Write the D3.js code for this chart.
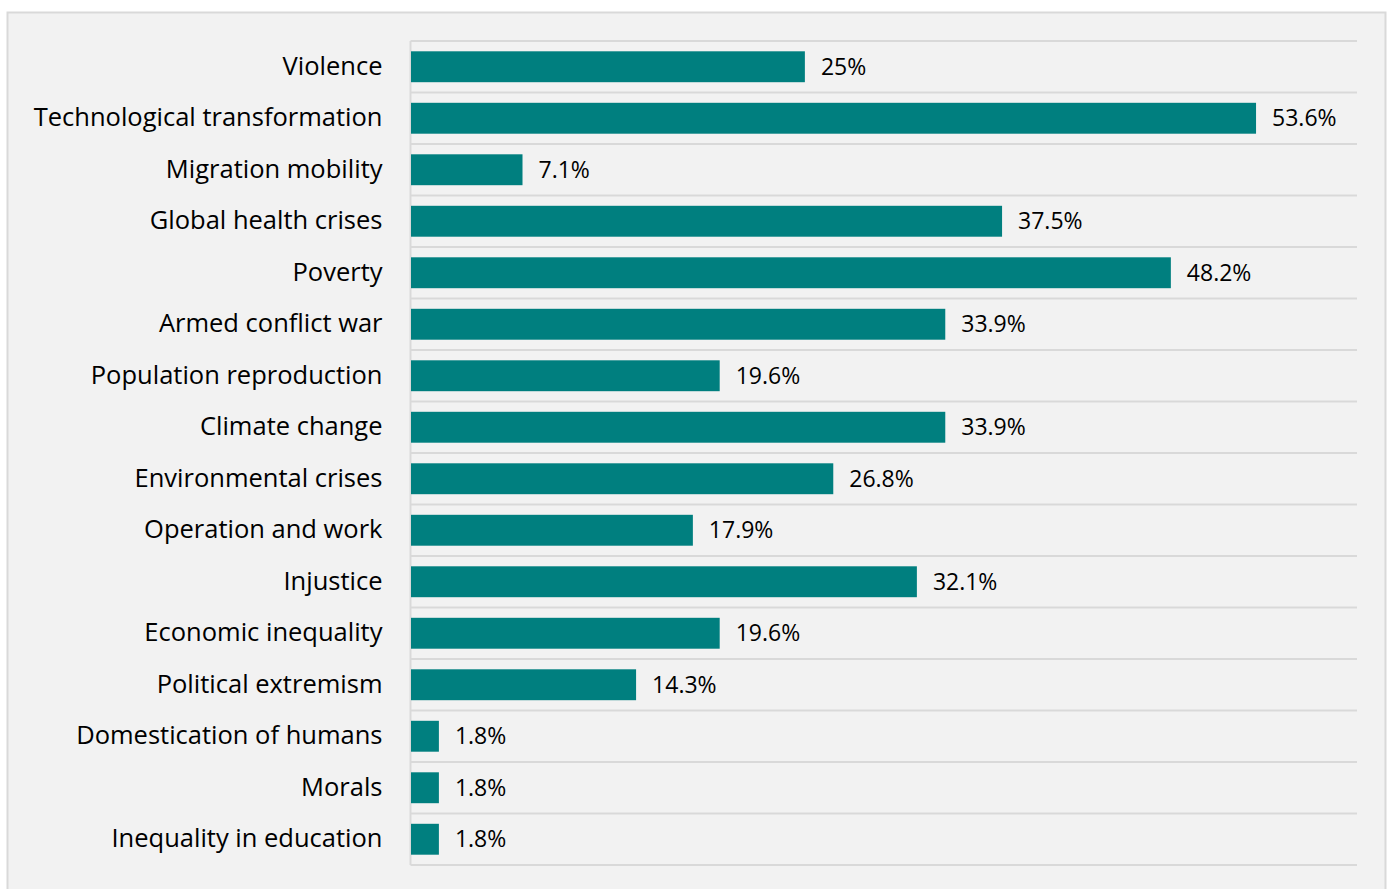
<!DOCTYPE html>
<html><head><meta charset="utf-8">
<script src="https://cdn.jsdelivr.net/npm/d3@7"></script>
<style>body{margin:0;background:#fff;} svg{display:block;}</style>
</head><body>
<svg id="c" width="1387" height="889"></svg>
<script>
const categories = ["Violence","Technological transformation","Migration mobility","Global health crises","Poverty","Armed conflict war","Population reproduction","Climate change","Environmental crises","Operation and work","Injustice","Economic inequality","Political extremism","Domestication of humans","Morals","Inequality in education"];
const values = [25,53.6,7.1,37.5,48.2,33.9,19.6,33.9,26.8,17.9,32.1,19.6,14.3,1.8,1.8,1.8];
const valueLabels = ["25%","53.6%","7.1%","37.5%","48.2%","33.9%","19.6%","33.9%","26.8%","17.9%","32.1%","19.6%","14.3%","1.8%","1.8%","1.8%"];

(function(){
const svg = d3.select("#c");
const font = "Open Sans, Noto Sans, sans-serif";
svg.append("rect").attr("x",7.5).attr("y",12.5).attr("width",1378).attr("height",890)
  .attr("fill","#f2f2f2").attr("stroke","#d9d9d9").attr("stroke-width",2);

const pl=410.5, pr=1357, pt=41, pb=865;
const x = d3.scaleLinear().domain([0,60]).range([pl,pr]);
const y = d3.scaleBand().domain(categories).range([pt,pb]).paddingInner(0.4).paddingOuter(0.2);

const step = y.step();
const gl = d3.range(categories.length+1).map(i=>pt+i*step);
svg.append("g").selectAll("line").data(gl).join("line")
  .attr("x1",pl).attr("x2",pr).attr("y1",d=>d).attr("y2",d=>d)
  .attr("stroke","#d9d9d9").attr("stroke-width",2);
svg.append("line").attr("x1",pl).attr("x2",pl).attr("y1",pt).attr("y2",pb)
  .attr("stroke","#d9d9d9").attr("stroke-width",2);

svg.append("g").selectAll("rect").data(categories).join("rect")
  .attr("x",x(0)+0.5).attr("y",d=>y(d)).attr("height",y.bandwidth())
  .attr("width",(d,i)=>x(values[i])-x(0)-0.5).attr("fill","#007f7f");

const yAxis = d3.axisLeft(y).tickSize(0).tickPadding(28);
const ga = svg.append("g").attr("transform",`translate(${pl},0)`).call(yAxis);
ga.select(".domain").remove();
ga.selectAll("text").attr("font-family",font).attr("font-size",25.5).attr("fill","#000");

svg.append("g").selectAll("text").data(categories).join("text")
  .attr("x",(d,i)=>x(values[i])+16).attr("y",d=>y(d)+y.bandwidth()/2).attr("dy","0.35em")
  .attr("font-family",font).attr("font-size",23).attr("fill","#000")
  .text((d,i)=>valueLabels[i]);
})();
</script>
</body></html>
